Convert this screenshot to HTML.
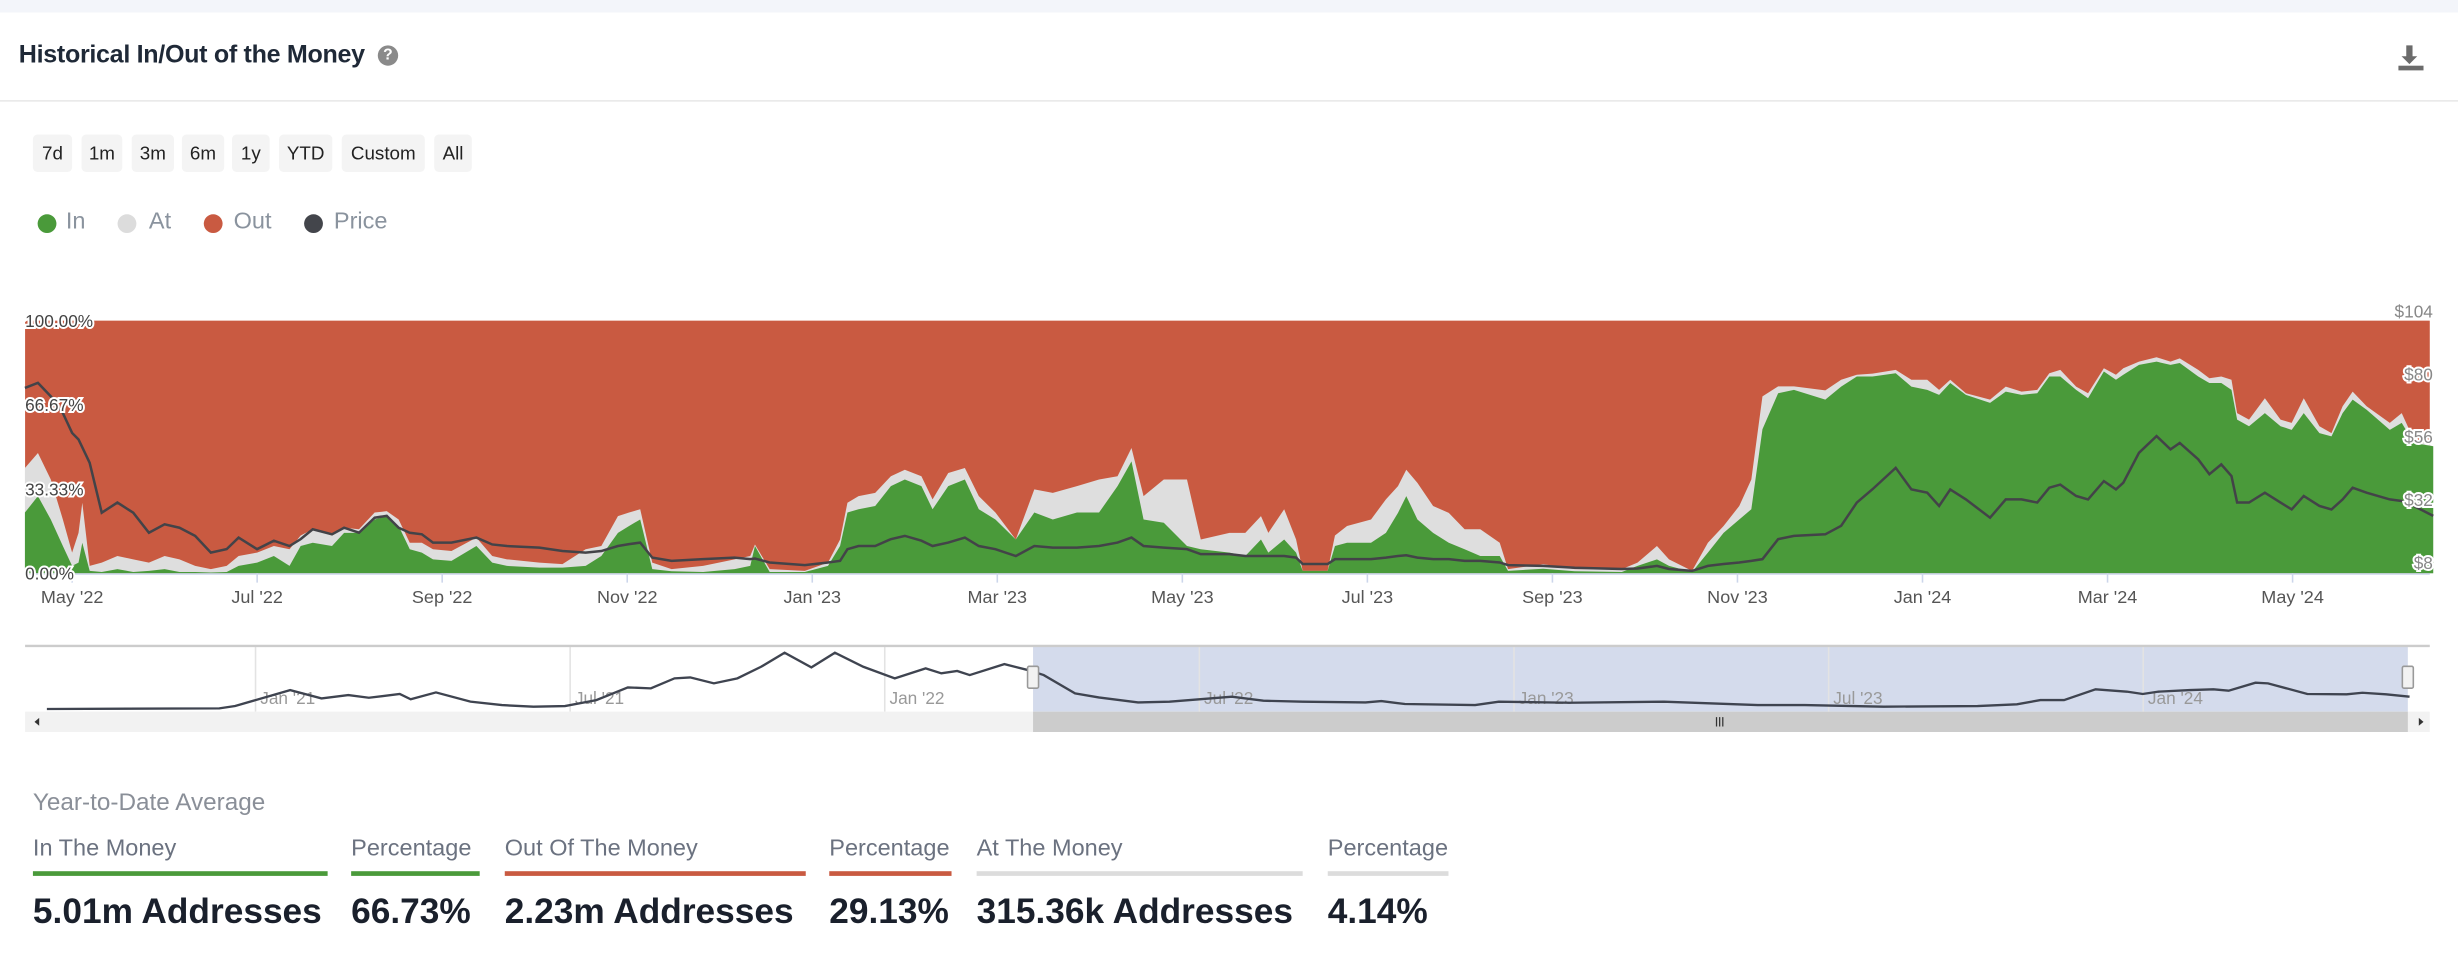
<!DOCTYPE html>
<html><head><meta charset="utf-8">
<style>
html,body{margin:0;padding:0;background:#fff;}
body{width:2458px;height:976px;overflow:hidden;font-family:"Liberation Sans",sans-serif;}
#wrap{position:absolute;left:0;top:0;width:1568px;height:624px;transform:scale(1.56760,1.56410);transform-origin:0 0;}
.abs{position:absolute;}
.btn{position:absolute;top:86px;height:24px;line-height:24px;background:#f4f4f4;border-radius:3px;font-size:12px;color:#222;text-align:center;}
.leg{position:absolute;top:133px;font-size:15px;color:#8a939e;}
.dot{position:absolute;top:137px;width:12px;height:12px;border-radius:50%;}
.hd{position:absolute;top:534px;font-size:15px;color:#6b7280;}
.ul{position:absolute;top:557px;height:3px;}
.val{position:absolute;top:570px;font-size:22.5px;font-weight:bold;color:#1a202c;white-space:nowrap;}
</style></head>
<body>
<div id="wrap">
<div class="abs" style="left:0;top:0;width:1568px;height:8px;background:#f3f5fa"></div>
<div class="abs" style="left:12px;top:27px;font-size:16px;font-weight:bold;color:#1f2937;letter-spacing:-0.2px">Historical In/Out of the Money</div>
<div class="abs" style="left:241px;top:29px;width:13px;height:13px;border-radius:50%;background:#8a8a8a;color:#fff;font-size:10px;font-weight:bold;text-align:center;line-height:13px">?</div>
<svg class="abs" style="left:1528px;top:27px" width="20" height="20"><path d="M7 2h4v7h3l-5 5-5-5h3z" fill="#6b6b6b"/><rect x="2" y="15" width="16" height="3" fill="#6b6b6b"/></svg>
<div class="abs" style="left:0;top:64px;width:1568px;height:1px;background:#e8e8e8"></div>

<div class="btn" style="left:21px;width:25px">7d</div>
<div class="btn" style="left:52px;width:26px">1m</div>
<div class="btn" style="left:84px;width:27px">3m</div>
<div class="btn" style="left:116px;width:27px">6m</div>
<div class="btn" style="left:148px;width:24px">1y</div>
<div class="btn" style="left:178px;width:34px">YTD</div>
<div class="btn" style="left:218px;width:53px">Custom</div>
<div class="btn" style="left:277px;width:24px">All</div>

<div class="dot" style="left:24px;background:#4a9a3a"></div>
<div class="leg" style="left:42px">In</div>
<div class="dot" style="left:75px;background:#dcdcdc"></div>
<div class="leg" style="left:95px">At</div>
<div class="dot" style="left:130px;background:#c95a41"></div>
<div class="leg" style="left:149px">Out</div>
<div class="dot" style="left:194px;background:#43454b"></div>
<div class="leg" style="left:213px">Price</div>

<svg id="chart" class="abs" style="left:0;top:0" width="1568" height="480"></svg>

<div class="abs" style="left:21px;top:505px;font-size:15.5px;color:#8a8f98">Year-to-Date Average</div>
<div class="hd" style="left:21px">In The Money</div>
<div class="ul" style="left:21px;width:188px;background:#4a9a3a"></div>
<div class="val" style="left:21px">5.01m Addresses</div>
<div class="hd" style="left:224px">Percentage</div>
<div class="ul" style="left:224px;width:82px;background:#4a9a3a"></div>
<div class="val" style="left:224px">66.73%</div>
<div class="hd" style="left:322px">Out Of The Money</div>
<div class="ul" style="left:322px;width:192px;background:#c95a41"></div>
<div class="val" style="left:322px">2.23m Addresses</div>
<div class="hd" style="left:529px">Percentage</div>
<div class="ul" style="left:529px;width:78px;background:#c95a41"></div>
<div class="val" style="left:529px">29.13%</div>
<div class="hd" style="left:623px">At The Money</div>
<div class="ul" style="left:623px;width:208px;background:#dcdcdc"></div>
<div class="val" style="left:623px">315.36k Addresses</div>
<div class="hd" style="left:847px">Percentage</div>
<div class="ul" style="left:847px;width:77px;background:#dcdcdc"></div>
<div class="val" style="left:847px">4.14%</div>
</div>

<script>
// months since May 1 2022
const months = [-0.51,-0.37,-0.23,-0.1,0,0.07,0.11,0.19,0.32,0.49,0.66,0.83,1.0,1.16,1.33,1.5,1.67,1.8,2.0,2.18,2.35,2.47,2.6,2.81,2.94,3.1,3.27,3.4,3.53,3.65,3.78,3.9,4.1,4.37,4.54,4.7,5.05,5.3,5.55,5.72,5.9,6.02,6.14,6.27,6.48,6.82,7.16,7.33,7.38,7.54,7.92,8.17,8.3,8.38,8.5,8.68,8.85,9.0,9.18,9.3,9.47,9.65,9.8,9.98,10.2,10.4,10.6,10.86,11.1,11.3,11.45,11.58,11.8,12.05,12.2,12.51,12.68,12.85,12.93,13.1,13.23,13.3,13.57,13.65,13.78,14.04,14.2,14.33,14.42,14.54,14.71,14.88,15.05,15.22,15.43,15.52,15.9,16.24,16.75,16.92,17.13,17.26,17.51,17.68,17.85,18.02,18.15,18.27,18.44,18.61,18.95,19.12,19.29,19.46,19.71,19.88,20.05,20.18,20.3,20.47,20.73,20.9,21.07,21.24,21.37,21.49,21.66,21.79,21.96,22.09,22.17,22.34,22.53,22.68,22.78,22.98,23.1,23.23,23.34,23.4,23.53,23.7,23.87,23.99,24.12,24.29,24.42,24.54,24.65,24.8,25.05,25.18,25.31,25.52];
const inPct = [24,30.5,21.3,10.8,2.9,4.2,12.1,0.9,0.5,1.6,0.5,0.9,1.6,0.5,0.5,0.3,0.5,2.9,4.2,6.8,2.9,10.8,12.1,10.8,16,16,21.3,22.6,18.7,9.5,8.2,5.5,4.9,10.8,4.2,2.9,2.2,2.2,2.9,6.8,16,18.7,21.3,1.6,0.8,0.5,1.6,2.9,10.8,0.5,0.5,2.9,10.8,24,25.3,26.6,34.5,37.1,34.5,25.3,34.5,37.1,25.3,21.3,13.4,24,21.3,24,24,34.5,44.3,21.3,20,10.8,9.5,8.2,6.8,13.4,8.2,13.4,8.2,0.9,0.9,10.8,12.1,12.1,16,23.9,30.5,21.3,16,12.1,9.5,6.8,6.8,0.9,1.8,0.8,0.5,2.9,5.5,2.9,0.5,8.2,16,21.3,25.3,57,71.3,72.6,68.7,73.9,77.9,77.9,79.2,73.9,72.6,70.6,75.3,70.6,67.4,71.9,70.6,71.3,77.9,77.9,72.6,69.3,79.9,76.6,78.6,82.5,83.8,82.5,83.2,77.9,75.3,75.3,72.6,60.8,58.2,63.4,58.2,56.8,63.4,55.5,54.2,63.4,68.7,64.7,56.8,59.5,51.6,50.3];
const inPlusAtPct = [41.7,47.6,37.1,21.3,8.2,16,27.9,2.9,4.2,6.8,5.5,4.2,6.8,5.5,2.9,1.6,2.9,6.8,8.2,10.8,9.5,14.9,17.4,14.9,18,17.4,24,24.6,21.3,12.1,12.1,9.5,8.8,14.1,6.8,5.5,4.2,3.6,9.5,10.8,22.6,24,25.3,4.2,1.6,2.9,5.5,6.8,11.4,1.6,0.9,4.2,13.4,27.9,30.5,31.8,38.4,41,38.4,29.2,39.7,41.7,30.5,24,13.4,33.2,31.8,34.5,37.1,38.4,49.6,30.5,37.1,37.1,13.4,16,16,22.6,16,25.3,13.4,0.9,0.9,14.9,18.7,21.3,29.2,34.5,41,35.8,26.6,23.9,17.4,17.4,12.1,1.6,3.6,1.6,1.6,4.2,10.8,5.5,0.9,12.1,18.7,26.6,37.1,70,74,74,72.4,76.6,78.6,79,80.5,76.6,76.6,72.6,76.6,71.3,68.7,73.9,71.9,72.6,79.2,80.5,73.9,71.3,81.2,78.6,81.2,83.8,85.5,83.8,85.1,80.5,77.2,77.9,76.6,63.4,60.8,69.3,60.8,59.5,69.3,58.2,55.5,66.1,71.9,66.1,59.5,63.4,52.9,50.3];
const price = [74.7,76.6,71.5,65.1,57.5,55,52,46.1,27,30.9,27,19.4,22.6,21.3,18.2,11.8,13.1,17.5,13.1,16.3,14.3,16.9,20.7,18.8,21.3,19.4,25.1,25.8,21.3,19.4,18.8,15.6,15.6,17.5,14.9,14.3,13.7,12.4,11.8,12.4,14.3,15,15.6,9.9,8.6,9.3,9.9,9.3,9.5,8,7,8,8.6,13.1,14.3,14.3,16.9,18.2,16.3,14.3,15.6,17.5,14.3,13.1,10.5,14.3,13.7,13.7,14.3,15.6,17.5,14.3,13.7,13.1,11.2,11.2,10.5,10.5,10.5,10.5,9.9,7.4,7.4,9.3,9.3,9.3,9.9,10.5,10.8,9.9,9.3,9.3,8.6,8.6,8,7,6.7,6,5.5,5.7,6.7,5.5,4.8,6.7,7.4,8,8.6,9.3,16.9,18.2,18.8,22,30.9,36,44.2,35.9,34.7,29.6,35.9,32.1,25.1,32.1,32.1,30.9,36.6,37.8,33.4,32.1,39.1,35.9,38.5,49.9,56.3,51.2,53.7,47.4,41.7,45.5,41,30.9,30.9,34.7,30.9,28.3,33.4,29.6,28.3,32.1,36.6,34.7,32.1,31.5,29.6,25.8];
const xTickLabels = ["May '22","Jul '22","Sep '22","Nov '22","Jan '23","Mar '23","May '23","Jul '23","Sep '23","Nov '23","Jan '24","Mar '24","May '24"];
const xTickMonths = [0,2,4,6,8,10,12,14,16,18,20,22,24];
const pctTicks = ["0.00%","33.33%","66.67%","100.00%"];
const pctTickValues = [0,33.33,66.67,100];
const priceTicks = ["$8","$32","$56","$80","$104"];
const priceTickValues = [8,32,56,80,104];
// navigator: months since Jan 1 2021, relative price level
const navMonths = [-3.98,-0.69,-0.39,0.66,1.26,1.77,2.16,2.75,2.96,3.44,4.1,4.7,5.3,5.9,6.5,7.1,7.54,7.99,8.29,8.74,9.19,9.64,10.09,10.6,11.05,11.59,12.19,12.78,13.08,13.38,13.62,14.28,14.73,15.03,15.63,16.08,16.83,17.43,18.62,19.22,19.97,21.17,21.47,21.92,23.26,23.71,25.06,26.86,28.65,29.55,31.05,32.84,33.59,34.04,34.49,35.09,35.69,35.99,36.29,36.89,37.34,37.63,38.14,38.38,39.13,39.88,40.18,40.63,41.08];
const navPrice = [4.8,6.4,12,50.4,30.4,38.4,32,40.8,28,44.8,22.4,14.4,10.4,12,26.4,56.8,54.4,78.4,80.8,66.4,78.4,106.4,140,104.8,140,106.4,78.4,102.4,90.4,96,86.4,112.8,98.4,86.4,42.4,32.8,20.8,22.4,34.4,24.8,22.4,20.8,24,16.8,14.4,22.4,20,22.4,14.4,14.4,10.4,12,16,26.4,26.4,52,46.4,40.8,46.4,50.4,52,48.8,68,66.4,40.8,40,44,40,34.4];
const navTickLabels = ["Jan '21","Jul '21","Jan '22","Jul '22","Jan '23","Jul '23","Jan '24"];
const navTickMonths = [0,6,12,18,24,30,36];

const NS='http://www.w3.org/2000/svg';
const svg=document.getElementById('chart');
const PL=16,PR=1550,PT=205,PB=366.5;
const xS=m=>46+m*59.02;
const yPct=v=>PB-(v/100)*(PB-PT);
const pMin=3.9,pMax=100.4;
const yPrice=p=>PB-(p-pMin)/(pMax-pMin)*(PB-PT);
const nxS=m=>163+m*33.45;
const nyS=v=>454.6-v*0.2664;
function mk(tag,attrs,parent){const e=document.createElementNS(NS,tag);for(const k in attrs)e.setAttribute(k,attrs[k]);(parent||svg).appendChild(e);return e;}
function areaPath(vals){let d='M'+xS(months[0])+','+PB;months.forEach((m,i)=>{d+='L'+xS(m).toFixed(1)+','+yPct(vals[i]).toFixed(1);});d+='L'+xS(months[months.length-1])+','+PB+'Z';return d;}

const out=mk('rect',{x:PL,y:PT,width:PR-PL,height:PB-PT,fill:'#c95a41'});


const at=mk('path',{d:areaPath(inPlusAtPct),fill:'#dedede'});


const inA=mk('path',{d:areaPath(inPct),fill:'#4a9a3a'});


let pd='';months.forEach((m,i)=>{pd+=(i?'L':'M')+xS(m).toFixed(1)+','+yPrice(price[i]).toFixed(1);});
const pl=mk('path',{d:pd,fill:'none',stroke:'#434348','stroke-width':1.6});


const ax=mk('line',{x1:PL,x2:PR,y1:PB+0.5,y2:PB+0.5,stroke:'#ccd6eb','stroke-width':1});


xTickLabels.forEach((lab,i)=>{
  const x=xS(xTickMonths[i]);
  const tk=mk('line',{x1:x,x2:x,y1:PB,y2:PB+6,stroke:'#ccd6eb'});
  
  
  const t=mk('text',{x:x,y:PB+19,'text-anchor':'middle','font-size':11.5,fill:'#555','font-family':'Liberation Sans, sans-serif'});
  t.textContent=lab;
  
  
});
pctTicks.forEach((lab,i)=>{
  const t=mk('text',{x:16,y:yPct(pctTickValues[i])+4,'font-size':11,fill:'#444',stroke:'#fff','stroke-width':2.5,'paint-order':'stroke','font-family':'Liberation Sans, sans-serif'});
  t.textContent=lab;
  
  
});
priceTicks.forEach((lab,i)=>{
  const t=mk('text',{x:1552,y:yPrice(priceTickValues[i])+4,'text-anchor':'end','font-size':11,fill:'#888',stroke:'#fff','stroke-width':2.5,'paint-order':'stroke','font-family':'Liberation Sans, sans-serif'});
  t.textContent=lab;
  
  
});

// navigator
const NT=413,NB=455,SB=468;
const nb=mk('rect',{x:PL,y:NT,width:PR-PL,height:NB-NT,fill:'#fff'});


const sel=mk('rect',{x:659,y:NT,width:1536-659,height:NB-NT,fill:'#d4dbec'});


navTickLabels.forEach((lab,i)=>{
  const x=nxS(navTickMonths[i]);
  const g=mk('line',{x1:x,x2:x,y1:NT,y2:NB,stroke:'#e3e3e3'});
  
  
  const t=mk('text',{x:x+3,y:450,'font-size':11,fill:'#999','font-family':'Liberation Sans, sans-serif'});
  t.textContent=lab;
  
  
});
let nd='';navMonths.forEach((m,i)=>{nd+=(i?'L':'M')+nxS(m).toFixed(1)+','+nyS(navPrice[i]).toFixed(1);});
const nl=mk('path',{d:nd,fill:'none',stroke:'#3f4450','stroke-width':1.5});


const nt=mk('line',{x1:PL,x2:PR,y1:NT,y2:NT,stroke:'#ccc','stroke-width':1.5});


[659,1536].forEach(x=>{
  const h=mk('rect',{x:x-3.5,y:426,width:7,height:14,fill:'#f2f2f2',stroke:'#999','stroke-width':1,rx:1});
  
  
});
const sbg=mk('rect',{x:PL,y:NB,width:PR-PL,height:SB-NB,fill:'#f2f2f2'});


const th=mk('rect',{x:659,y:NB,width:1536-659,height:SB-NB,fill:'#cccccc'});


const la=mk('path',{d:'M25,459 L22,461.5 L25,464 Z',fill:'#333'});


const ra=mk('path',{d:'M1543,459 L1546,461.5 L1543,464 Z',fill:'#333'});


[1095,1097,1099].forEach(x=>{
  const g=mk('line',{x1:x,x2:x,y1:458.5,y2:464.5,stroke:'#333','stroke-width':0.8});
  
  
});
</script>
</body></html>
